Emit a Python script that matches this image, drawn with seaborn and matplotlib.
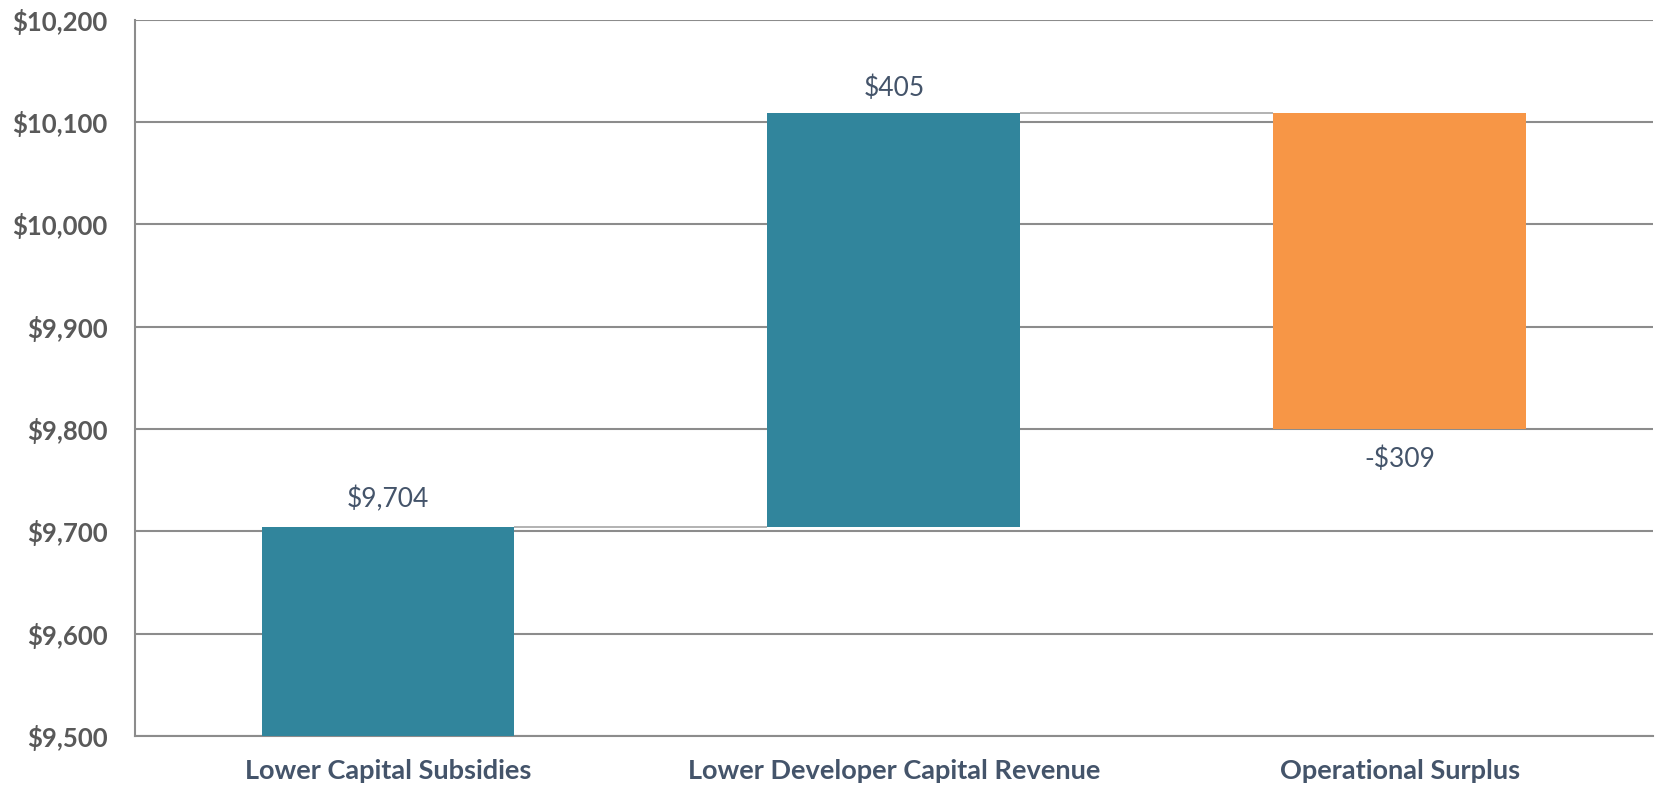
import seaborn as sns
import matplotlib.pyplot as plt
import pandas as pd

# waterfall data
categories = ["Lower Capital Subsidies", "Lower Developer Capital Revenue", "Operational Surplus"]
changes = [9704, 405, -309]
labels = ["$9,704", "$405", "-$309"]
bar_colors = ["#31859C", "#31859C", "#F79646"]
yticks = [9500, 9600, 9700, 9800, 9900, 10000, 10100, 10200]

# running bottoms for the waterfall
bottoms = [0]
for c in changes[:-1]:
    bottoms.append(bottoms[-1] + c)
tops = [b + c for b, c in zip(bottoms, changes)]

df = pd.DataFrame({"category": categories, "change": changes})

sns.set_style("white")
plt.rcParams["font.family"] = ["Lato", "DejaVu Sans"]

fig = plt.figure(figsize=(16.55, 7.87), dpi=100)
ax = fig.add_axes([0.0816, 0.065, 0.917, 0.91])

width = 0.5
sns.barplot(data=df, x="category", y="change", bottom=bottoms, width=width,
            color=bar_colors[0], saturation=1, errorbar=None, ax=ax, zorder=3)
for patch, col in zip(ax.patches, bar_colors):
    patch.set_facecolor(col)
    patch.set_edgecolor("none")

# connectors between bars
for i in range(len(changes) - 1):
    ax.hlines(tops[i], i + width / 2, i + 1 - width / 2, color="#A6A6A6", lw=1.2, zorder=2)

# value labels
for i, (lab, c) in enumerate(zip(labels, changes)):
    if c >= 0:
        off = 20 if i == 0 else 18
        ax.annotate(lab, (i, tops[i]), xytext=(0, off), textcoords="offset points",
                    ha="center", va="center", fontsize=19, color="#44546A")
    else:
        ax.annotate(lab, (i, tops[i]), xytext=(0, -22), textcoords="offset points",
                    ha="center", va="center", fontsize=19, color="#44546A")

ax.set_ylim(9500, 10200)
ax.set_xlim(-0.5, 2.5)
ax.set_yticks(yticks)
ax.set_yticklabels([f"${v:,}" for v in yticks], fontsize=18.5, fontweight="bold", color="#595959")
ax.tick_params(axis="y", length=0, pad=20)
ax.tick_params(axis="x", length=0, pad=17)
for t in ax.get_xticklabels():
    t.set_fontsize(19.5)
    t.set_fontweight("bold")
    t.set_color("#44546A")
ax.set_xlabel("")
ax.set_ylabel("")

ax.yaxis.grid(True, color="#8C8C8C", lw=1.5, zorder=0)
ax.set_axisbelow(True)
for s in ["top", "right"]:
    ax.spines[s].set_visible(False)
for s in ["left", "bottom"]:
    ax.spines[s].set_color("#8C8C8C")
    ax.spines[s].set_linewidth(1.5)

fig.savefig("out.png", dpi=100)
